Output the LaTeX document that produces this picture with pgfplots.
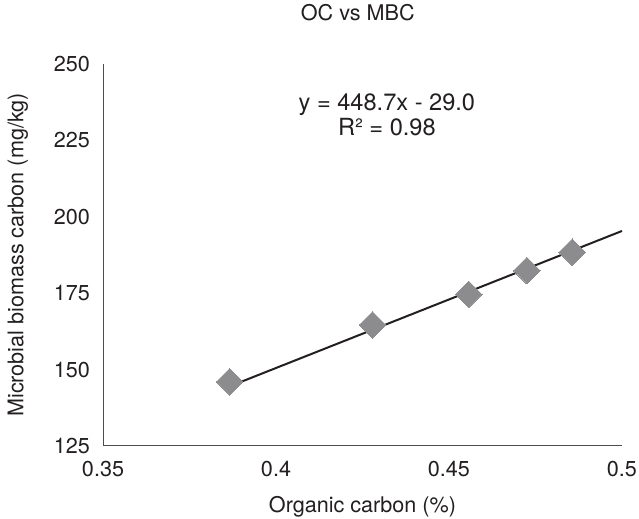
\documentclass[border=0pt]{standalone}
\usepackage{fontspec}
\setmainfont{TeX Gyre Heros}
\usepackage{pgfplots}
\pgfplotsset{compat=1.18}
\definecolor{ink}{HTML}{231F20}
\definecolor{markgray}{HTML}{8C8C8E}
\begin{document}
\begin{tikzpicture}
\begin{axis}[
    scale only axis,
    width=259.5pt, height=191pt,
    xmin=0.35, xmax=0.5,
    ymin=125, ymax=250,
    xtick={0.35,0.4,0.45,0.5},
    ytick={125,150,175,200,225,250},
    xticklabel style={/pgf/number format/fixed, /pgf/number format/precision=2},
    /pgf/number format/assume math mode=true,
    axis x line*=bottom, axis y line*=left,
    axis line style={-, ink!80, line width=0.5pt},
    major tick length=0pt,
    tick label style={font=\fontsize{10.8}{12}\selectfont, text=ink},
    xticklabel style={yshift=-4pt},
    yticklabel style={xshift=-3pt},
    label style={font=\fontsize{10.8}{12}\selectfont, text=ink},
    xlabel={Organic carbon (\%)},
    ylabel={Microbial biomass carbon (mg/kg)},
    xlabel style={at={(rel axis cs:0.5,-0.16)}, anchor=center},
    ylabel style={at={(rel axis cs:-0.164,0.5)}, anchor=center, rotate=0},
    title={OC vs MBC},
    title style={at={(rel axis cs:0.491,1.102)}, anchor=center, font=\fontsize{10.8}{12}\selectfont, text=ink},
    clip=false,
]
\addplot[only marks, color=markgray, mark=square*, mark size=4.7pt,
    mark options={rotate=45, fill=markgray, draw=markgray, line width=0pt}]
    coordinates {(0.3866,146.0)(0.4279,164.6)(0.4557,174.6)(0.4725,182.4)(0.4856,188.4)};
\addplot[ink, line width=1pt, no marks]
    coordinates {(0.3866,144.5)(0.5,195.35)};
\node[align=center, font=\fontsize{11.8}{12.5}\selectfont, text=ink]
    at (rel axis cs:0.547,0.868) {y = 448.7x - 29.0\\R² = 0.98};
\coordinate (bl) at (rel axis cs:-0.1985,-0.191);
\coordinate (tr) at (rel axis cs:1.0328,1.1675);
\end{axis}
\pgfresetboundingbox
\path (bl) rectangle (tr);
\end{tikzpicture}
\end{document}
